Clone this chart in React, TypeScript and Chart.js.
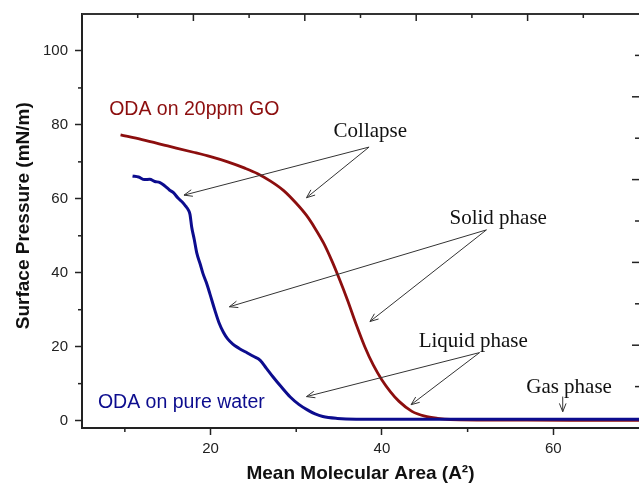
import React, { useEffect, useRef } from 'react';
import { Chart, registerables } from 'chart.js';

Chart.register(...registerables);

// ---- Data ----
const goArea = [9.5, 12, 15, 18, 20, 22, 24, 25.5, 27, 28.5, 30, 31.2, 32.2, 33.2, 34.2, 35, 36, 37, 38, 39, 40, 41, 42, 43.5, 45, 46.5, 48, 55, 62, 70];
const goPressure = [77.3, 76.0, 74.3, 72.6, 71.4, 70.0, 68.3, 66.8, 64.8, 62.3, 58.8, 55.5, 52.0, 48.0, 43.0, 38.5, 32.5, 26.0, 20.0, 15.0, 11.0, 7.8, 5.2, 2.5, 1.2, 0.6, 0.3, 0.15, 0.1, 0.1];

const waterArea = [10.9, 11.6, 12.3, 12.9, 13.5, 14.1, 14.6, 15.2, 15.7, 16.2, 16.8, 17.1, 17.4, 17.6, 17.8, 18.1, 18.4, 18.8, 19.1, 19.5, 19.9, 20.5, 21.0, 21.5, 22.0, 22.6, 23.3, 24.3, 25.0, 25.8, 26.5, 27.3, 28.3, 29.3, 30.3, 31.3, 32.2, 33.1, 34.8, 37, 45, 55, 70];
const waterPressure = [66.2, 65.9, 65.2, 65.3, 64.7, 64.4, 63.6, 62.4, 61.6, 60.2, 58.9, 58.0, 57.0, 55.8, 52.4, 49.0, 45.3, 42.3, 39.9, 37.4, 34.5, 29.9, 26.4, 23.9, 22.1, 20.7, 19.6, 18.3, 17.4, 16.3, 14.2, 11.8, 9.0, 6.4, 4.4, 2.9, 1.8, 1.1, 0.6, 0.4, 0.35, 0.35, 0.35];

const seriesLabels = ['ODA on 20ppm GO', 'ODA on pure water'];
// label anchor (x, baseline y) for each series label
const seriesLabelX = [18.1, 16.6];
const seriesLabelY = [82.7, 3.5];

const xTickLabels = [20, 40, 60];
const xMinorTicks = [10, 30, 50];
const yTickLabels = [0, 20, 40, 60, 80, 100];
const yMinorTicks = [10, 30, 50, 70, 90];

const phaseLabels = ['Collapse', 'Solid phase', 'Liquid phase', 'Gas phase'];
const phaseLabelX = [38.65, 53.57, 50.65, 61.84];
const phaseLabelY = [76.8, 53.2, 20.0, 7.6];
// arrow start (shared apex) and targets per phase
const phaseArrowFromX = [38.5, 52.2, 51.4, 61.1];
const phaseArrowFromY = [74.0, 51.6, 18.4, 6.5];
const phaseArrowToX = [[16.9, 31.2], [22.2, 38.6], [31.2, 43.4], [61.1]];
const phaseArrowToY = [[61.0, 60.3], [30.8, 26.8], [6.5, 4.3], [2.4]];

// ---- Styles ----
const RED = '#8c0e0e';
const BLUE = '#0c0c8e';
const SANS = '"Liberation Sans", Arial, sans-serif';
const SERIF = '"Liberation Serif", "Times New Roman", serif';
const AXIS = '#222';

function drawArrow(ctx: CanvasRenderingContext2D, x1: number, y1: number, x2: number, y2: number) {
  const ang = Math.atan2(y2 - y1, x2 - x1);
  const head = 9;
  const spread = 0.38;
  ctx.beginPath();
  ctx.moveTo(x1, y1);
  ctx.lineTo(x2, y2);
  ctx.moveTo(x2 - head * Math.cos(ang - spread), y2 - head * Math.sin(ang - spread));
  ctx.lineTo(x2, y2);
  ctx.lineTo(x2 - head * Math.cos(ang + spread), y2 - head * Math.sin(ang + spread));
  ctx.stroke();
}

const decorPlugin = {
  id: 'decor',
  afterDraw(chart: any) {
    const { ctx, chartArea } = chart;
    const xs = chart.scales.x;
    const ys = chart.scales.y;
    const { left, right, top, bottom } = chartArea;
    ctx.save();
    // frame top line
    ctx.strokeStyle = '#333';
    ctx.lineWidth = 2;
    ctx.beginPath();
    ctx.moveTo(left, top);
    ctx.lineTo(right, top);
    ctx.stroke();

    ctx.lineWidth = 1.5;
    ctx.strokeStyle = AXIS;
    // minor ticks on bottom and left
    xMinorTicks.forEach((v) => {
      const px = xs.getPixelForValue(v);
      ctx.beginPath();
      ctx.moveTo(px, bottom);
      ctx.lineTo(px, bottom + 4);
      ctx.stroke();
    });
    yMinorTicks.forEach((v) => {
      const py = ys.getPixelForValue(v);
      ctx.beginPath();
      ctx.moveTo(left - 4, py);
      ctx.lineTo(left, py);
      ctx.stroke();
    });
    // decorative inward ticks on top and right edges
    const div = 10;
    for (let k = 1; k < div; k++) {
      const len = k % 2 === 0 ? 7 : 4;
      const px = left + ((right - left) * k) / div;
      ctx.beginPath();
      ctx.moveTo(px, top);
      ctx.lineTo(px, top + len);
      ctx.stroke();
      const py = bottom - ((bottom - top) * k) / div;
      ctx.beginPath();
      ctx.moveTo(right, py);
      ctx.lineTo(right - len, py);
      ctx.stroke();
    }

    // series labels
    ctx.textAlign = 'center';
    ctx.textBaseline = 'alphabetic';
    ctx.font = `19.5px ${SANS}`;
    const colors = [RED, BLUE];
    seriesLabels.forEach((t, i) => {
      ctx.fillStyle = colors[i];
      ctx.fillText(t, xs.getPixelForValue(seriesLabelX[i]), ys.getPixelForValue(seriesLabelY[i]));
    });

    // phase labels and arrows
    ctx.font = `21px ${SERIF}`;
    ctx.fillStyle = '#111';
    phaseLabels.forEach((t, i) => {
      ctx.fillText(t, xs.getPixelForValue(phaseLabelX[i]), ys.getPixelForValue(phaseLabelY[i]));
    });
    ctx.strokeStyle = '#333';
    ctx.lineWidth = 1;
    phaseLabels.forEach((_, i) => {
      const fx = xs.getPixelForValue(phaseArrowFromX[i]);
      const fy = ys.getPixelForValue(phaseArrowFromY[i]);
      phaseArrowToX[i].forEach((tx, j) => {
        drawArrow(ctx, fx, fy, xs.getPixelForValue(tx), ys.getPixelForValue(phaseArrowToY[i][j]));
      });
    });
    ctx.restore();
  },
};

export default function App() {
  const ref = useRef<HTMLCanvasElement>(null);
  useEffect(() => {
    const chart = new Chart(ref.current as HTMLCanvasElement, {
      type: 'scatter',
      data: {
        datasets: [
          {
            label: seriesLabels[1],
            data: waterArea.map((x, i) => ({ x, y: waterPressure[i] })),
            showLine: true,
            borderColor: BLUE,
            backgroundColor: BLUE,
            borderWidth: 3,
            pointRadius: 0,
            cubicInterpolationMode: 'monotone',
            fill: false,
          },
          {
            label: seriesLabels[0],
            data: goArea.map((x, i) => ({ x, y: goPressure[i] })),
            showLine: true,
            borderColor: RED,
            backgroundColor: RED,
            borderWidth: 2.8,
            pointRadius: 0,
            cubicInterpolationMode: 'monotone',
            fill: false,
          },
        ],
      },
      options: {
        responsive: false,
        animation: false,
        layout: { padding: { top: 14, left: 0, right: 0, bottom: 0 }, autoPadding: false },
        plugins: { legend: { display: false }, tooltip: { enabled: false } },
        scales: {
          x: {
            type: 'linear',
            position: 'bottom',
            min: 5,
            max: 70,
            afterBuildTicks: (s: any) => {
              s.ticks = xTickLabels.map((v) => ({ value: v }));
            },
            afterFit: (s: any) => {
              s.height = 57;
              s.paddingLeft = 0;
              s.paddingRight = 0;
            },
            ticks: { font: { family: SANS, size: 15 }, color: AXIS, padding: 5, autoSkip: false, maxRotation: 0 },
            grid: { drawOnChartArea: false, drawTicks: true, tickLength: 7, tickColor: AXIS, tickWidth: 1.5 },
            border: { display: true, color: AXIS, width: 2 },
            title: {
              display: true,
              text: 'Mean Molecular Area (A²)',
              font: { family: SANS, size: 19, weight: 'bold' },
              color: '#111',
              padding: { top: 0, bottom: 0 },
            },
          },
          y: {
            type: 'linear',
            position: 'left',
            min: -2,
            max: 110,
            afterBuildTicks: (s: any) => {
              s.ticks = yTickLabels.map((v) => ({ value: v }));
            },
            afterFit: (s: any) => {
              s.width = 82;
              s.paddingTop = 0;
              s.paddingBottom = 0;
            },
            ticks: { font: { family: SANS, size: 15 }, color: AXIS, padding: 7, autoSkip: false },
            grid: { drawOnChartArea: false, drawTicks: true, tickLength: 7, tickColor: AXIS, tickWidth: 1.5 },
            border: { display: true, color: AXIS, width: 2 },
            title: {
              display: true,
              text: '  Surface Pressure (mN/m)',
              font: { family: SANS, size: 19, weight: 'bold' },
              color: '#111',
              padding: { top: 12.5, bottom: 0 },
            },
          },
        },
      } as any,
      plugins: [decorPlugin],
    });
    return () => chart.destroy();
  }, []);
  return (
    <div style={{ position: 'absolute', left: 0, top: 0, width: 639, height: 485, background: '#fff' }}>
      <canvas ref={ref} width={639} height={485} />
    </div>
  );
}
